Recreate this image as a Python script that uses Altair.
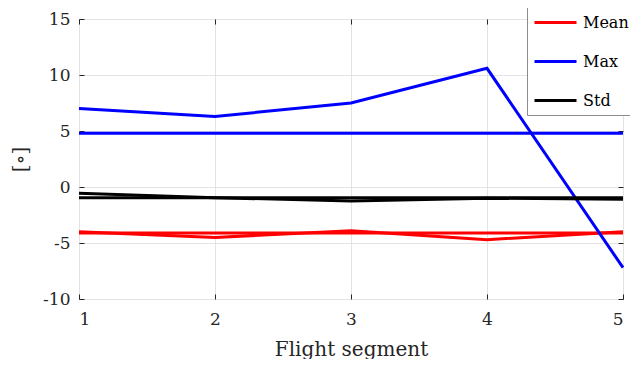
import altair as alt
import pandas as pd

segments = [1, 2, 3, 4, 5]

mean_a = [-4.0, -4.5, -3.9, -4.7, -4.0]
mean_b = [-4.1, -4.1, -4.1, -4.1, -4.1]
max_a = [7.0, 6.3, 7.5, 10.6, -7.2]
max_b = [4.8, 4.8, 4.8, 4.8, 4.8]
std_a = [-0.55, -0.95, -1.25, -1.0, -1.1]
std_b = [-0.95, -0.95, -0.95, -0.95, -0.95]

y_ticks = [-10, -5, 0, 5, 10, 15]
series_order = ["Mean", "Max", "Std"]
series_colors = ["#ff0000", "#0000ff", "#000000"]

rows = []
for name, line_id, vals in [
    ("Mean", "mean_a", mean_a),
    ("Mean", "mean_b", mean_b),
    ("Max", "max_a", max_a),
    ("Max", "max_b", max_b),
    ("Std", "std_a", std_a),
    ("Std", "std_b", std_b),
]:
    for s, v in zip(segments, vals):
        rows.append({"segment": s, "value": v, "series": name, "line": line_id})
df = pd.DataFrame(rows)

FONT = "DejaVu Serif"
TXT = "#262626"
xscale = alt.Scale(domain=[1, 5], nice=False)
yscale = alt.Scale(domain=[-10, 15], nice=False)

lines = (
    alt.Chart(df)
    .mark_line(strokeWidth=3)
    .encode(
        x=alt.X("segment:Q", scale=xscale,
                axis=alt.Axis(values=segments, title="Flight segment",
                              labelExpr="toString(datum.value)",
                              ticks=True, tickSize=5, offset=-5, tickColor=TXT)),
        y=alt.Y("value:Q", scale=yscale,
                axis=alt.Axis(values=y_ticks, title="[∘]",
                              labelExpr="toString(datum.value)",
                              ticks=True, tickSize=5, offset=-5, tickColor=TXT)),
        color=alt.Color(
            "series:N",
            scale=alt.Scale(domain=series_order, range=series_colors),
            sort=series_order,
            legend=alt.Legend(
                title=None,
                orient="none",
                legendX=448,
                legendY=-25,
                fillColor="white",
                strokeColor="#8c8c8c",
                padding=6,
                symbolType="stroke",
                symbolSize=1764,
                symbolStrokeWidth=3,
                labelOffset=5,
                labelFont=FONT,
                labelFontSize=16,
                labelColor="#000000",
                rowPadding=8,
                labelLimit=200,
            ),
        ),
        detail="line:N",
    )
)

mirror = (
    alt.Chart(df)
    .mark_line(opacity=0)
    .encode(
        x=alt.X("segment:Q", scale=xscale,
                axis=alt.Axis(orient="top", values=segments, labels=False, title=None,
                              grid=False, ticks=True, tickSize=5, offset=-5, tickColor=TXT)),
        y=alt.Y("value:Q", scale=yscale,
                axis=alt.Axis(orient="right", values=y_ticks, labels=False, title=None,
                              grid=False, ticks=True, tickSize=5, offset=-5, tickColor=TXT)),
        detail="line:N",
    )
)

chart = (
    alt.layer(lines, mirror)
    .resolve_axis(x="independent", y="independent")
    .properties(
        width=544,
        height=280,
        autosize=alt.AutoSizeParams(type="none"),
        padding={"left": 71, "top": 11, "right": 7, "bottom": 60},
    )
    .configure_view(stroke=TXT, strokeWidth=1)
    .configure_axis(
        labelFont=FONT,
        titleFont=FONT,
        labelFontSize=17,
        titleFontSize=20,
        titleFontWeight="normal",
        labelColor=TXT,
        titleColor=TXT,
        gridColor="#e3e3e3",
        gridWidth=1,
        domain=False,
    )
    .configure_axisX(labelPadding=12, titlePadding=12)
    .configure_axisY(labelPadding=9, titlePadding=12)
)

chart.save("out.html", embed_options={"renderer": "svg", "actions": False})
